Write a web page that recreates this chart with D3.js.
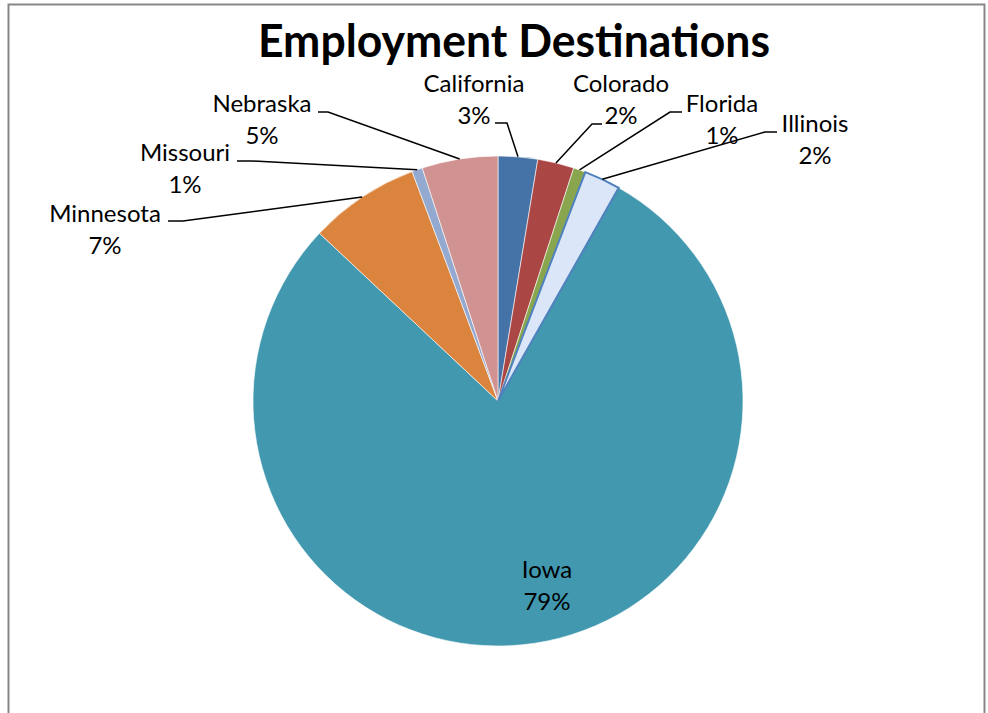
<!DOCTYPE html>
<html>
<head>
<meta charset="utf-8">
<script src="https://cdn.jsdelivr.net/npm/d3@7/dist/d3.min.js"></script>
<style>
  html, body { margin: 0; padding: 0; background: #fff; }
  svg { display: block; }
</style>
</head>
<body>
<svg id="chart" width="988" height="713"></svg>
<script>
// ---- Data ----
const title = "Employment Destinations";
const states = ["California", "Colorado", "Florida", "Illinois", "Iowa", "Minnesota", "Missouri", "Nebraska"];
const shares = [2.6, 2.4, 0.8, 2.4, 78.8, 7.3, 0.7, 5.0];
const colors = ["#4572A7", "#AA4643", "#89A54E", "#DCE6F9", "#4198AF", "#DB843D", "#93A9CF", "#D19392"];

// ---- Layout (label placement, not data) ----
const labelLayout = {
  California: { elbow: [507, 123], end: [495, 123], text: [474, 92] },
  Colorado:   { elbow: [592, 124], end: [602, 124], text: [621, 92] },
  Florida:    { elbow: [670, 112], end: [682, 112], text: [722, 112] },
  Illinois:   { elbow: [765, 132], end: [777, 132], text: [815, 132] },
  Iowa:       { inside: true, text: [547, 578] },
  Minnesota:  { elbow: [183, 221], end: [168, 221], text: [105, 222] },
  Missouri:   { elbow: [252, 161], end: [237, 161], text: [185, 161] },
  Nebraska:   { elbow: [328, 112], end: [318, 112], text: [262, 112] }
};

const svg = d3.select("#chart");
const cx = 498, cy = 401, R = 245;
const font = "Lato, 'Noto Sans', sans-serif";

// chart border
svg.append("rect")
  .attr("x", 8.5).attr("y", 4.5)
  .attr("width", 976).attr("height", 720)
  .attr("fill", "#fff").attr("stroke", "#878787").attr("stroke-width", 2);

// title
svg.append("text")
  .attr("x", 514).attr("y", 57)
  .attr("text-anchor", "middle")
  .attr("font-family", font)
  .attr("font-weight", "bold")
  .attr("font-size", 46)
  .attr("textLength", 512)
  .attr("lengthAdjust", "spacingAndGlyphs")
  .attr("fill", "#000")
  .text(title);

const data = states.map((s, i) => ({ state: s, value: shares[i], color: colors[i] }));
const pie = d3.pie().sort(null).value(d => d.value).startAngle(0).endAngle(2 * Math.PI);
const arcs = pie(data);
const arc = d3.arc().innerRadius(0).outerRadius(R);

const g = svg.append("g").attr("transform", `translate(${cx},${cy})`);
g.selectAll("path.slice").data(arcs).join("path")
  .attr("class", "slice")
  .attr("d", arc)
  .attr("fill", d => d.data.color)
  .attr("stroke", "#ffffff")
  .attr("stroke-width", 0.6)
  .attr("stroke-linejoin", "round");

// Illinois outlined on top
g.selectAll("path.hl").data(arcs.filter(d => d.data.state === "Illinois")).join("path")
  .attr("class", "hl")
  .attr("d", arc).attr("fill", d => d.data.color)
  .attr("stroke", "#4F81BD").attr("stroke-width", 2);

const total = d3.sum(shares);
const pct = v => Math.round(v / total * 100) + "%";

// labels
arcs.forEach(a => {
  const L = labelLayout[a.data.state];
  const mid = (a.startAngle + a.endAngle) / 2;
  if (!L.inside) {
    const ax = cx + R * Math.sin(mid), ay = cy - R * Math.cos(mid);
    svg.append("path")
      .attr("d", d3.line()([[ax, ay], L.elbow, L.end]))
      .attr("fill", "none").attr("stroke", "#000").attr("stroke-width", 1.5);
  }
  const t = svg.append("text")
    .attr("font-family", font).attr("font-size", 24).attr("fill", "#000")
    .attr("text-anchor", "middle");
  t.append("tspan").attr("x", L.text[0]).attr("y", L.text[1]).text(a.data.state);
  t.append("tspan").attr("x", L.text[0]).attr("y", L.text[1] + 32).text(pct(a.data.value));
});
</script>
</body>
</html>
